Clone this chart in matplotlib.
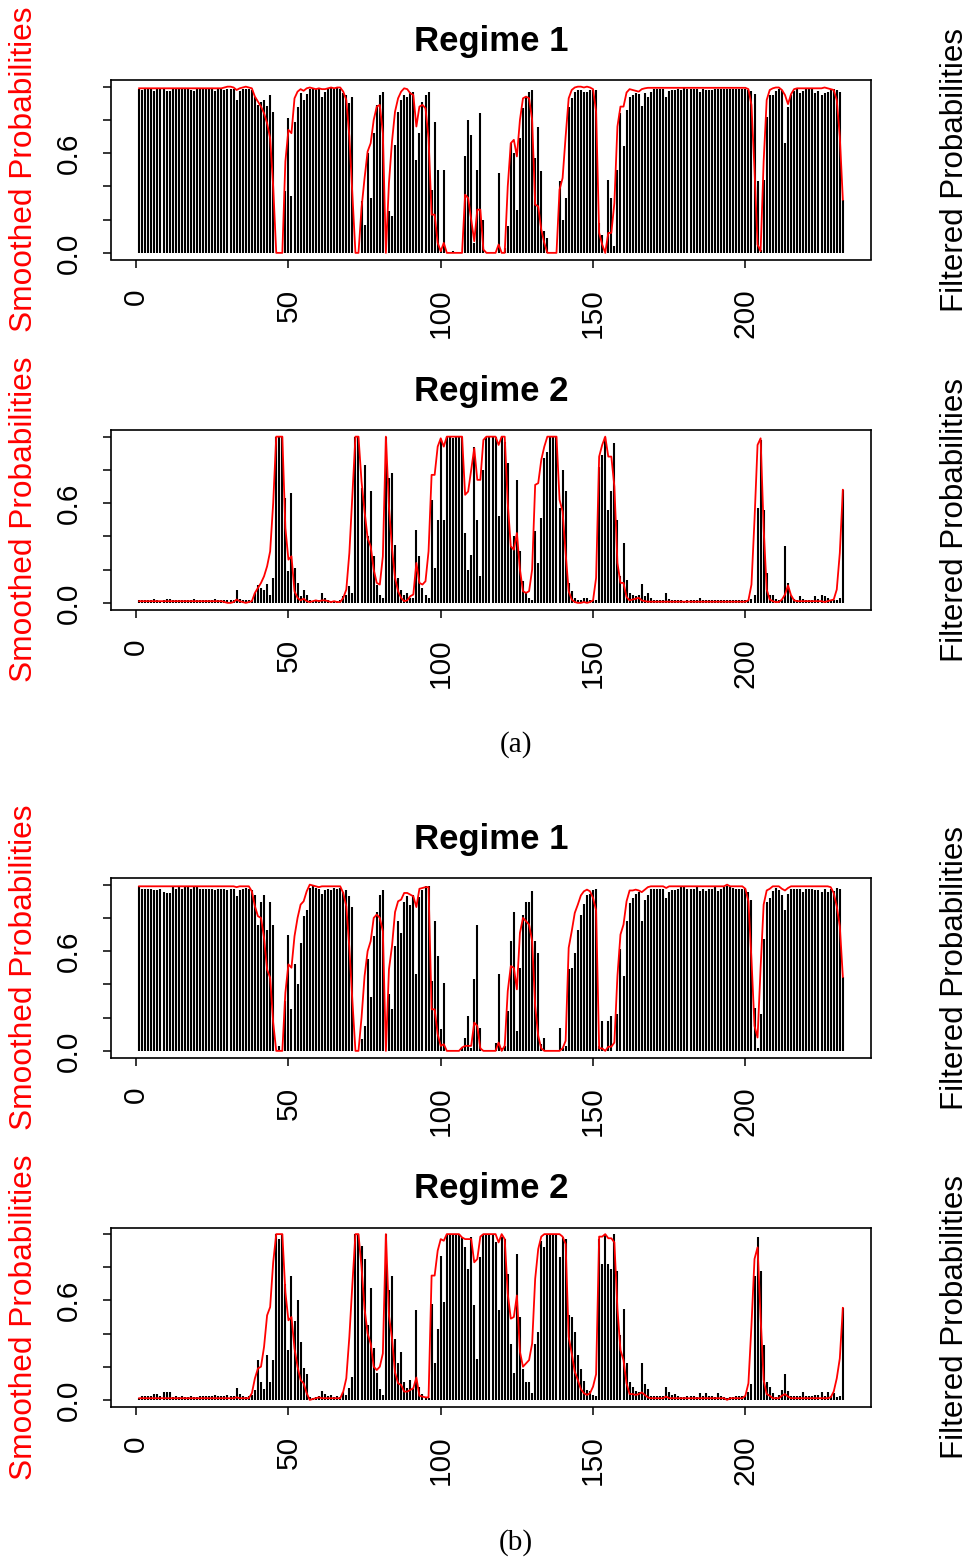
import numpy as np
import matplotlib
matplotlib.use("Agg")
import matplotlib.pyplot as plt

plt.rcParams['font.family'] = ['Liberation Sans', 'DejaVu Sans']

# time index of the observations
t = np.arange(1, 233)

# (a) Regime 1 filtered probabilities (bars)
filt_a = [
    0.985, 0.98, 0.985, 0.985, 0.985, 0.975, 0.985, 0.99, 0.985, 0.975,
    0.975, 0.985, 0.985, 0.985, 0.985, 0.985, 0.985, 0.98, 0.975, 0.985,
    0.985, 0.985, 0.985, 0.985, 0.985, 0.975, 0.985, 0.985, 0.98, 0.985,
    0.985, 0.985, 0.92, 0.975, 0.985, 0.985, 0.985, 0.98, 0.94, 0.89,
    0.91, 0.92, 0.885, 0.95, 0.85, 0.0, 0.0, 0.0, 0.37, 0.81,
    0.34, 0.79, 0.88, 0.96, 0.92, 0.955, 0.985, 0.99, 0.985, 0.985,
    0.94, 0.97, 0.985, 0.99, 0.99, 0.99, 0.985, 0.96, 0.95, 0.90,
    0.94, 0.0, 0.0, 0.31, 0.17, 0.6, 0.33, 0.72, 0.89, 0.95,
    0.97, 0.0, 0.25, 0.22, 0.65, 0.85, 0.92, 0.95, 0.94, 0.97,
    0.97, 0.56, 0.72, 0.91, 0.95, 0.97, 0.38, 0.79, 0.50, 0.02,
    0.50, 0.0, 0.0, 0.01, 0.0, 0.0, 0.0, 0.58, 0.80, 0.71,
    0.06, 0.50, 0.84, 0.20, 0.0, 0.0, 0.0, 0.0, 0.48, 0.0,
    0.03, 0.16, 0.66, 0.60, 0.26, 0.69, 0.87, 0.94, 0.97, 0.98,
    0.57, 0.76, 0.49, 0.13, 0.09, 0.0, 0.0, 0.0, 0.43, 0.20,
    0.33, 0.88, 0.93, 0.97, 0.98, 0.98, 0.97, 0.97, 0.98, 0.98,
    0.98, 0.18, 0.11, 0.0, 0.44, 0.33, 0.04, 0.50, 0.84, 0.64,
    0.86, 0.94, 0.95, 0.96, 0.955, 0.885, 0.96, 0.94, 0.97, 0.985,
    0.985, 0.985, 0.985, 0.94, 0.975, 0.98, 0.98, 0.985, 0.98, 0.99,
    0.985, 0.985, 0.985, 0.985, 0.97, 0.985, 0.98, 0.98, 0.98, 0.985,
    0.985, 0.985, 0.985, 0.985, 0.985, 0.985, 0.985, 0.985, 0.985, 0.985,
    0.98, 0.975, 0.955, 0.43, 0.02, 0.44, 0.82, 0.95, 0.95, 0.975,
    0.985, 0.98, 0.66, 0.88, 0.95, 0.975, 0.985, 0.96, 0.975, 0.985,
    0.985, 0.985, 0.96, 0.975, 0.95, 0.96, 0.97, 0.985, 0.985, 0.98,
    0.97, 0.32,
]

# (a) Regime 1 smoothed probabilities (red line)
smooth_a = [
    0.99, 0.99, 0.99, 0.99, 0.99, 0.99, 0.99, 0.99, 0.99, 0.99,
    0.99, 0.99, 0.99, 0.99, 0.99, 0.99, 0.99, 0.99, 0.99, 0.99,
    0.99, 0.99, 0.99, 0.99, 0.99, 0.99, 0.99, 0.99, 0.995, 1.0,
    1.0, 0.995, 0.98, 0.99, 0.995, 1.0, 0.995, 0.99, 0.94, 0.91,
    0.88, 0.84, 0.78, 0.69, 0.40, 0.0, 0.0, 0.0, 0.55, 0.74,
    0.72, 0.93, 0.97, 0.985, 0.975, 0.99, 0.995, 0.99, 0.985, 0.99,
    0.985, 0.985, 0.99, 0.995, 0.99, 0.995, 0.995, 0.97, 0.92, 0.70,
    0.35, 0.0, 0.0, 0.27, 0.45, 0.61, 0.66, 0.80, 0.88, 0.89,
    0.72, 0.0, 0.42, 0.67, 0.85, 0.93, 0.97, 0.99, 0.985, 0.96,
    0.95, 0.76, 0.88, 0.89, 0.87, 0.69, 0.23, 0.23, 0.06, 0.01,
    0.06, 0.0, 0.0, 0.0, 0.0, 0.0, 0.0, 0.35, 0.33, 0.20,
    0.07, 0.26, 0.26, 0.02, 0.0, 0.0, 0.0, 0.0, 0.05, 0.0,
    0.0, 0.40, 0.66, 0.68, 0.58, 0.80, 0.93, 0.94, 0.93, 0.80,
    0.29, 0.28, 0.14, 0.06, 0.0, 0.0, 0.0, 0.0, 0.38, 0.45,
    0.70, 0.93, 0.98, 0.995, 1.0, 1.0, 0.995, 1.0, 0.995, 0.985,
    0.85, 0.12, 0.05, 0.0, 0.12, 0.12, 0.3, 0.76, 0.88, 0.88,
    0.965, 0.985, 0.98, 0.975, 0.97, 0.985, 0.99, 0.993, 0.993, 0.993,
    0.993, 0.993, 0.993, 0.993, 0.993, 0.993, 0.993, 0.993, 0.993, 0.993,
    0.993, 0.993, 0.993, 0.993, 0.993, 0.993, 0.993, 0.993, 0.993, 0.993,
    0.993, 0.993, 0.993, 0.993, 0.993, 0.993, 0.993, 0.993, 0.993, 0.993,
    0.985, 0.89, 0.50, 0.05, 0.01, 0.55, 0.92, 0.98, 0.99, 0.995,
    0.995, 0.98, 0.95, 0.895, 0.955, 0.985, 0.99, 0.99, 0.99, 0.99,
    0.99, 0.99, 0.99, 0.99, 0.99, 0.995, 0.99, 0.985, 0.98, 0.92,
    0.70, 0.32,
]

# (b) Regime 1 filtered probabilities (bars)
filt_b = [
    0.99, 0.975, 0.975, 0.975, 0.975, 0.965, 0.965, 0.975, 0.955, 0.95,
    0.95, 0.985, 0.975, 0.985, 0.975, 0.985, 0.985, 0.975, 0.985, 0.985,
    0.975, 0.975, 0.975, 0.975, 0.975, 0.97, 0.975, 0.975, 0.975, 0.97,
    0.975, 0.975, 0.93, 0.965, 0.975, 0.98, 0.975, 0.97, 0.94, 0.76,
    0.895, 0.935, 0.73, 0.895, 0.76, 0.0, 0.03, 0.0, 0.30, 0.70,
    0.25, 0.525, 0.40, 0.65, 0.81, 0.845, 0.98, 0.99, 0.98, 0.975,
    0.945, 0.965, 0.975, 0.97, 0.98, 0.975, 0.98, 0.955, 0.97, 0.93,
    0.865, 0.0, 0.0, 0.07, 0.15, 0.55, 0.325, 0.69, 0.835, 0.935,
    0.97, 0.0, 0.34, 0.25, 0.63, 0.78, 0.71, 0.895, 0.93, 0.88,
    0.935, 0.46, 0.925, 0.965, 0.99, 0.99, 0.42, 0.78, 0.57, 0.13,
    0.41, 0.0, 0.0, 0.0, 0.0, 0.0, 0.02, 0.08, 0.21, 0.02,
    0.43, 0.756, 0.14, 0.0, 0.0, 0.0, 0.0, 0.05, 0.46, 0.02,
    0.03, 0.24, 0.66, 0.835, 0.12, 0.50, 0.815, 0.895, 0.895, 0.96,
    0.66, 0.59, 0.04, 0.08, 0.0, 0.0, 0.0, 0.0, 0.14, 0.02,
    0.03, 0.49, 0.50, 0.59, 0.73, 0.815, 0.885, 0.94, 0.945, 0.97,
    0.975, 0.03, 0.18, 0.0, 0.18, 0.21, 0.0, 0.22, 0.61, 0.45,
    0.78, 0.89, 0.92, 0.945, 0.955, 0.78, 0.905, 0.935, 0.975, 0.975,
    0.975, 0.975, 0.975, 0.92, 0.955, 0.97, 0.965, 0.975, 0.985, 0.985,
    0.975, 0.975, 0.975, 0.985, 0.96, 0.975, 0.96, 0.975, 0.975, 0.985,
    0.96, 0.975, 0.985, 0.99, 0.985, 0.98, 0.975, 0.975, 0.975, 0.975,
    0.955, 0.905, 0.255, 0.02, 0.22, 0.67, 0.895, 0.92, 0.96, 0.98,
    0.97, 0.94, 0.845, 0.945, 0.975, 0.975, 0.975, 0.975, 0.955, 0.975,
    0.975, 0.975, 0.97, 0.97, 0.955, 0.975, 0.955, 0.975, 0.96, 0.98,
    0.975, 0.445,
]

# (b) Regime 1 smoothed probabilities (red line)
smooth_b = [
    0.99, 0.99, 0.99, 0.99, 0.99, 0.99, 0.99, 0.99, 0.99, 0.99,
    0.99, 0.99, 0.99, 0.99, 0.99, 0.99, 0.99, 0.99, 0.99, 0.99,
    0.99, 0.99, 0.99, 0.99, 0.99, 0.99, 0.99, 0.99, 0.99, 0.99,
    0.99, 0.99, 0.985, 0.99, 0.99, 0.99, 0.99, 0.96, 0.87, 0.81,
    0.80, 0.68, 0.49, 0.44, 0.17, 0.0, 0.0, 0.0, 0.35, 0.52,
    0.50, 0.69, 0.80, 0.88, 0.90, 0.96, 1.0, 0.995, 0.99, 0.985,
    0.99, 0.99, 0.99, 0.99, 0.99, 0.99, 0.99, 0.95, 0.87, 0.62,
    0.30, 0.0, 0.0, 0.2, 0.45, 0.6, 0.66, 0.80, 0.82, 0.80,
    0.72, 0.0, 0.49, 0.63, 0.835, 0.90, 0.91, 0.95, 0.95, 0.94,
    0.93, 0.865, 0.975, 0.98, 0.985, 0.985, 0.25, 0.25, 0.10, 0.03,
    0.04, 0.0, 0.0, 0.0, 0.0, 0.0, 0.02, 0.03, 0.03, 0.03,
    0.17, 0.15, 0.015, 0.0, 0.0, 0.0, 0.0, 0.0, 0.05, 0.0,
    0.03, 0.36, 0.51, 0.50, 0.37, 0.71, 0.80, 0.78, 0.76, 0.66,
    0.27, 0.09, 0.015, 0.0, 0.0, 0.0, 0.0, 0.0, 0.0, 0.015,
    0.06, 0.62, 0.72, 0.83, 0.88, 0.935, 0.96, 0.97, 0.96, 0.92,
    0.845, 0.015, 0.015, 0.0, 0.025, 0.025, 0.05, 0.45, 0.70, 0.76,
    0.90, 0.965, 0.965, 0.97, 0.965, 0.955, 0.97, 0.985, 0.99, 0.99,
    0.99, 0.99, 0.99, 0.98, 0.99, 0.99, 0.99, 0.99, 0.99, 0.99,
    0.99, 0.99, 0.99, 0.99, 0.99, 0.99, 0.99, 0.99, 0.99, 0.99,
    0.99, 0.99, 0.99, 1.0, 0.99, 0.99, 0.99, 0.99, 0.99, 0.975,
    0.90, 0.55, 0.15, 0.08, 0.50, 0.88, 0.965, 0.975, 0.99, 0.99,
    0.99, 0.975, 0.965, 0.98, 0.99, 0.99, 0.99, 0.99, 0.99, 0.99,
    0.99, 0.99, 0.99, 0.99, 0.99, 0.99, 0.99, 0.985, 0.95, 0.87,
    0.75, 0.445,
]

x_ticks = [0, 50, 100, 150, 200]
y_ticks = [0.0, 0.2, 0.4, 0.6, 0.8, 1.0]
y_labels = ['0.0', '', '', '0.6', '', '']

W, H = 973, 1562
fig = plt.figure(figsize=(W / 100, H / 100), dpi=100)

# box of each panel in pixels: (top, bottom)
boxes = [(80, 259.5), (430, 609.5), (878, 1057.5), (1227.5, 1406.5)]
left_px, right_px = 111, 871


def panel(top, bottom, filt, smooth, title):
    ax = fig.add_axes([left_px / W, 1 - bottom / H,
                       (right_px - left_px) / W, (bottom - top) / H])
    ax.vlines(t, 0, filt, color='black', lw=1.5)
    ax.plot(t, smooth, color='red', lw=1.3)
    ax.set_xlim(1 - 0.04 * 231, 232 + 0.04 * 231)
    ax.set_ylim(-0.04, 1.04)
    ax.set_xticks(x_ticks)
    ax.set_xticklabels([str(v) for v in x_ticks], rotation=90, fontsize=21.5)
    ax.set_yticks(y_ticks)
    ax.set_yticklabels(y_labels, rotation=90, va='center', fontsize=21.5)
    ax.tick_params(axis='x', length=6, width=1.1, pad=15)
    ax.tick_params(axis='y', length=6, width=1.1, pad=14)
    for s in ax.spines.values():
        s.set_linewidth(1.2)
    ax.set_title(title, fontsize=25, fontweight='bold', pad=21)
    yc = 1 - (top + bottom) / 2 / H
    fig.text(24 / W, yc, 'Smoothed Probabilities', color='red',
             rotation=90, ha='center', va='center', fontsize=22.8)
    fig.text(955 / W, yc, 'Filtered Probabilities', color='black',
             rotation=90, ha='center', va='center', fontsize=22.5)
    return ax


# two regimes: regime 2 probabilities are the complement of regime 1
panel(*boxes[0], filt_a, smooth_a, 'Regime 1')
panel(*boxes[1], 1 - np.array(filt_a), 1 - np.array(smooth_a), 'Regime 2')
panel(*boxes[2], filt_b, smooth_b, 'Regime 1')
panel(*boxes[3], 1 - np.array(filt_b), 1 - np.array(smooth_b), 'Regime 2')

fig.text(516 / W, 1 - 745 / H, '(a)', family='Liberation Serif',
         ha='center', va='center', fontsize=21)
fig.text(516 / W, 1 - 1543 / H, '(b)', family='Liberation Serif',
         ha='center', va='center', fontsize=21)

fig.savefig('out.png', dpi=100)
